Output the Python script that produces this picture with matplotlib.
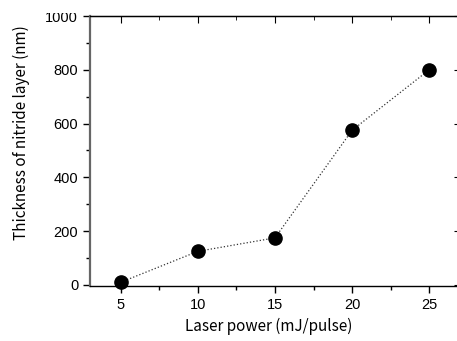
import matplotlib
matplotlib.use("Agg")
import matplotlib.pyplot as plt
from matplotlib.patches import Rectangle
from matplotlib.ticker import MultipleLocator

# data
power = [5, 10, 15, 20, 25]            # mJ/pulse
thickness = [10, 125, 175, 575, 800]   # nm

fig = plt.figure(figsize=(4.57, 3.41), dpi=100)
ax = fig.add_axes([90 / 457, 55 / 341, 370 / 457, 270 / 341])

ax.plot(power, thickness, linestyle=":", color="#333333", linewidth=0.9,
        marker="o", markersize=9.5, markerfacecolor="black",
        markeredgecolor="black", clip_on=False)

ax.set_xlim(3, 27)
ax.set_ylim(-4, 1000)
ax.xaxis.set_major_locator(MultipleLocator(5))
ax.xaxis.set_minor_locator(MultipleLocator(2.5))
ax.yaxis.set_major_locator(MultipleLocator(200))
ax.yaxis.set_minor_locator(MultipleLocator(100))

ax.tick_params(axis="x", which="both", direction="out", top=False)
ax.tick_params(axis="y", which="both", direction="out", right=False)
ax.tick_params(which="major", length=5, width=1, color="black")
ax.tick_params(which="minor", length=3, width=1, color="black")
ax.tick_params(labelsize=10.5)

# top and right ticks point inwards
sec_x = ax.secondary_xaxis("top")
sec_x.xaxis.set_major_locator(MultipleLocator(5))
sec_x.xaxis.set_minor_locator(MultipleLocator(2.5))
sec_x.tick_params(which="both", direction="in", labeltop=False)
sec_x.tick_params(which="major", length=5)
sec_x.tick_params(which="minor", length=3)
sec_y = ax.secondary_yaxis("right")
sec_y.yaxis.set_major_locator(MultipleLocator(200))
sec_y.yaxis.set_minor_locator(MultipleLocator(100))
sec_y.tick_params(which="both", direction="in", labelright=False)
sec_y.tick_params(which="major", length=4)
sec_y.tick_params(which="minor", length=2)

for lab in ax.get_xticklabels() + ax.get_yticklabels():
    lab.set_family("Liberation Sans")

ax.spines["left"].set_color("#666666")
ax.spines["left"].set_linewidth(1.6)
ax.spines["bottom"].set_linewidth(1.0)
ax.spines["top"].set_linewidth(1.0)

ax.set_xlabel("Laser power (mJ/pulse)", fontsize=11,
              family=["Noto Sans CJK JP", "DejaVu Sans"])
ax.xaxis.set_label_coords((269 - 90) / 370, -(318 - 286) / 270)
ax.set_ylabel("Thickness of nitride layer (nm)", fontsize=11,
              family=["Noto Sans CJK JP", "DejaVu Sans"])
ax.yaxis.set_label_coords(-(90 - 30) / 370, (286 - 133) / 270)

# the source image is cut just above the plot, so the top label is cropped
fig.patches.append(Rectangle((0, (341 - 13) / 341), 1, 13 / 341,
                             transform=fig.transFigure, facecolor="white",
                             edgecolor="none", zorder=10))

fig.savefig("out.png", dpi=100)
